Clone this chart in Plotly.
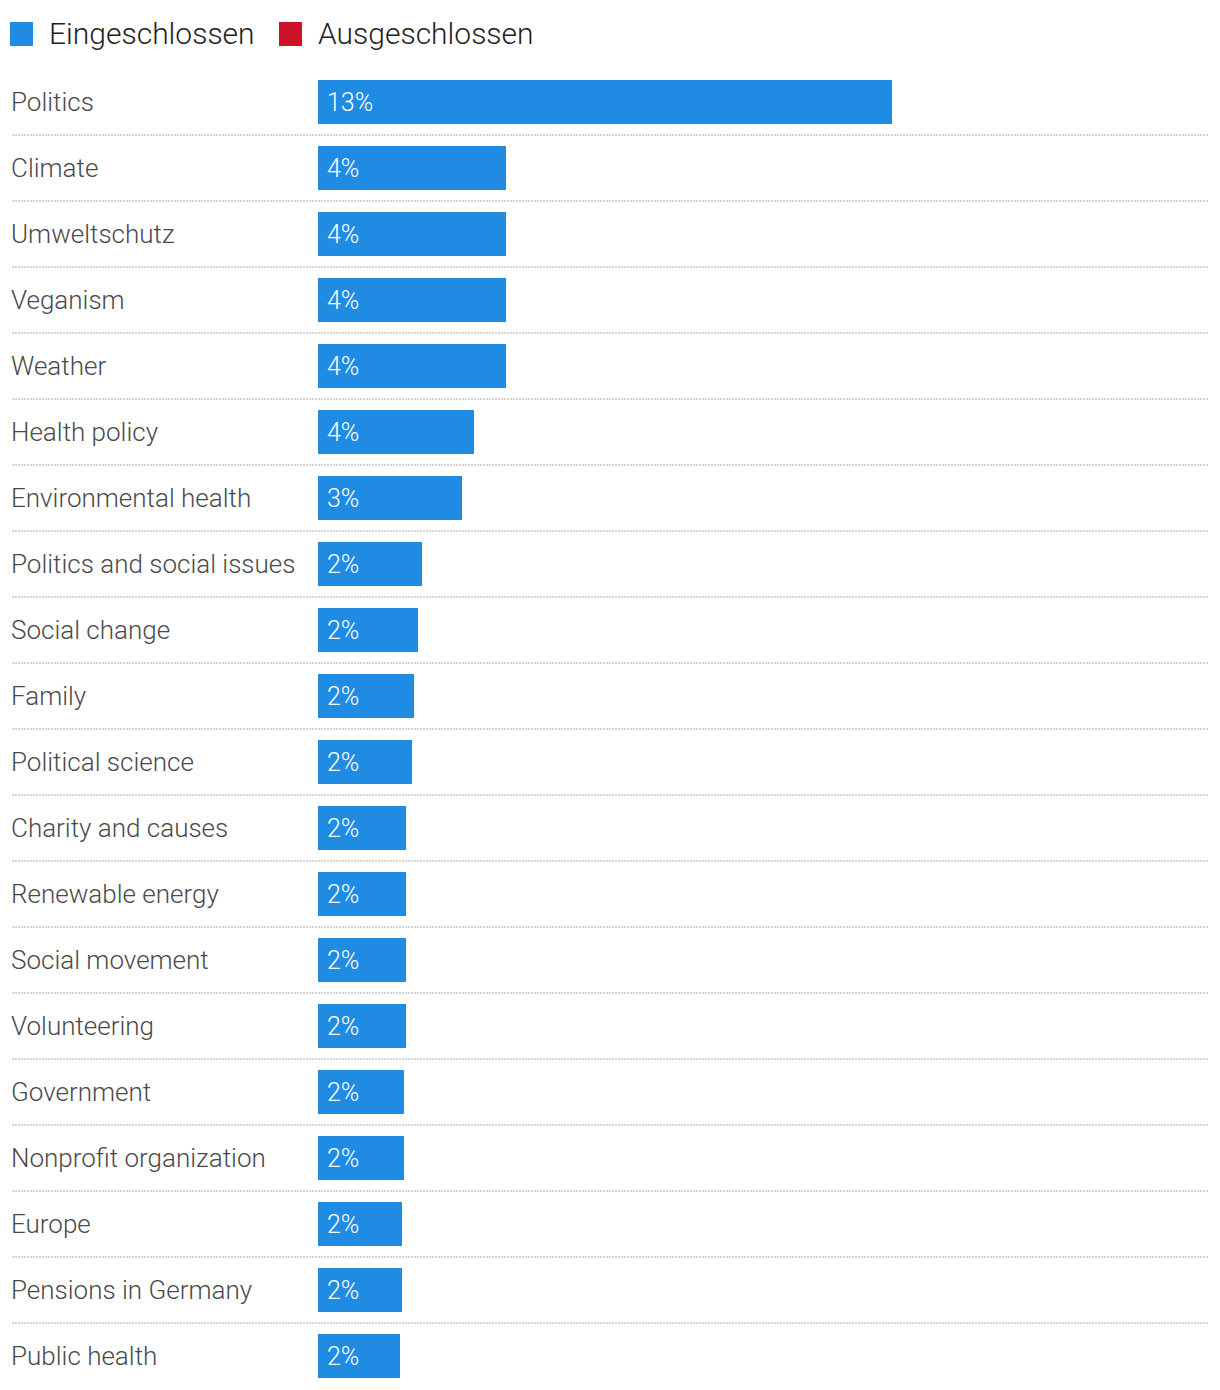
import plotly.graph_objects as go

# --- Daten ---
kategorien = [
    "Politics", "Climate", "Umweltschutz", "Veganism", "Weather",
    "Health policy", "Environmental health", "Politics and social issues",
    "Social change", "Family", "Political science", "Charity and causes",
    "Renewable energy", "Social movement", "Volunteering", "Government",
    "Nonprofit organization", "Europe", "Pensions in Germany", "Public health",
]
anteile = [
    13.0, 4.26, 4.26, 4.26, 4.26, 3.53, 3.26, 2.36, 2.26, 2.17,
    2.13, 1.99, 1.99, 1.99, 1.99, 1.95, 1.95, 1.90, 1.90, 1.86,
]
legende_namen = ["Eingeschlossen", "Ausgeschlossen"]
legende_farben = ["#208be2", "#cc1229"]

# --- Geometrie (Pixel im Fenster -> paper); Seite hat 8px Rand ---
OFF = 8
W, H = 1220 - 2 * OFF, 1390 - OFF
L, R, T, B = 318 - OFF, 12 - OFF, 69 - OFF, 1
plot_w = W - L - R
plot_h = H - T - B


def px_x(x):
    return (x - OFF - L) / plot_w


def px_y(y):
    return (H - B - (y - OFF)) / plot_h


fig = go.Figure(go.Bar(
    x=anteile, y=kategorien, orientation="h",
    marker=dict(color=legende_farben[0], line=dict(width=0)),
    width=44 / 66,
    hoverinfo="skip",
    showlegend=False,
))

shapes = []
annotations = []

# gepunktete Trennlinien
for i in range(len(kategorien) - 1):
    shapes.append(dict(
        type="line", xref="paper", yref="y",
        x0=px_x(12), x1=px_x(1208), y0=i + 0.5, y1=i + 0.5,
        line=dict(color="#d4d4d4", width=2, dash="2px,1px"),
        layer="below",
    ))

# Kategorienamen links und Werte in den Balken
for kat, wert in zip(kategorien, anteile):
    annotations.append(dict(
        text=kat, xref="paper", yref="y", x=px_x(12), y=kat,
        xanchor="left", yanchor="middle", showarrow=False, xshift=-3,
        font=dict(family="Roboto", size=26, color="#4a4a4a", weight=300),
    ))
    annotations.append(dict(
        text=f"{round(wert)}%", xref="x", yref="y", x=0, y=kat,
        xanchor="left", yanchor="middle", showarrow=False, xshift=7,
        font=dict(family="Roboto", size=25, color="white", weight=300),
    ))

# Legende oben
leg_x = [10, 279]
for name, farbe, lx in zip(legende_namen, legende_farben, leg_x):
    shapes.append(dict(
        type="rect", xref="paper", yref="paper",
        x0=px_x(lx), x1=px_x(lx + 23), y0=px_y(46), y1=px_y(22),
        fillcolor=farbe, line=dict(width=0),
    ))
    annotations.append(dict(
        text=name, xref="paper", yref="paper", x=px_x(lx + 37), y=px_y(34),
        xanchor="left", yanchor="middle", showarrow=False,
        font=dict(family="Roboto", size=30, color="#222222", weight=300),
    ))

fig.update_layout(
    width=W, height=H,
    margin=dict(l=L, r=R, t=T, b=B, pad=0),
    paper_bgcolor="white", plot_bgcolor="white",
    xaxis=dict(range=[0, plot_w / (574 / 13.0)], visible=False, fixedrange=True),
    yaxis=dict(range=[len(kategorien) - 0.5, -0.5], visible=False, fixedrange=True),
    shapes=shapes,
    annotations=annotations,
    bargap=0,
)

fig.write_html("out.html")
